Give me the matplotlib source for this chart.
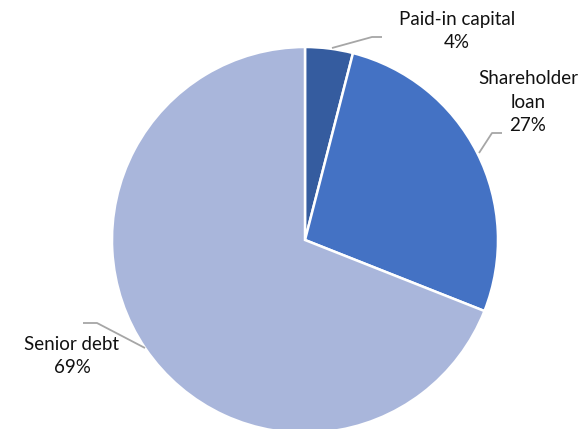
import matplotlib
matplotlib.use("Agg")
import matplotlib.pyplot as plt

categories = ["Paid-in capital", "Shareholder\nloan", "Senior debt"]
values = [4, 27, 69]
colors = ["#355C9F", "#4472C4", "#A9B6DB"]

W, H = 587, 429
fig = plt.figure(figsize=(W / 100, H / 100), dpi=100)
ax = fig.add_axes([0, 0, 1, 1])

cx, cy, r = 305, H - 240, 193
ax.pie(values, colors=colors, startangle=90, counterclock=False,
       center=(cx, cy), radius=r, frame=True,
       wedgeprops=dict(edgecolor="white", linewidth=1.8))
ax.set_xlim(0, W)
ax.set_ylim(0, H)
ax.set_aspect("equal")
ax.axis("off")

# label positions (image pixel coords) and leader lines
labels = [f"{c}\n{v}%" for c, v in zip(categories, values)]
label_pos = [(457, 31), (528, 102), (72, 356)]
leaders = [
    [(332, 48), (372, 37), (382, 37)],
    [(479, 153), (492, 133), (502, 133)],
    [(145, 348), (97, 323), (83, 323)],
]
for lab, (x, y), pts in zip(labels, label_pos, leaders):
    ax.text(x, H - y, lab, ha="center", va="center", fontsize=13.5,
            family="Lato", color="#111111", linespacing=1.45)
    ax.plot([p[0] for p in pts], [H - p[1] for p in pts],
            color="#A6A6A6", lw=1.3, solid_capstyle="butt")

fig.savefig("out.png", dpi=100)
